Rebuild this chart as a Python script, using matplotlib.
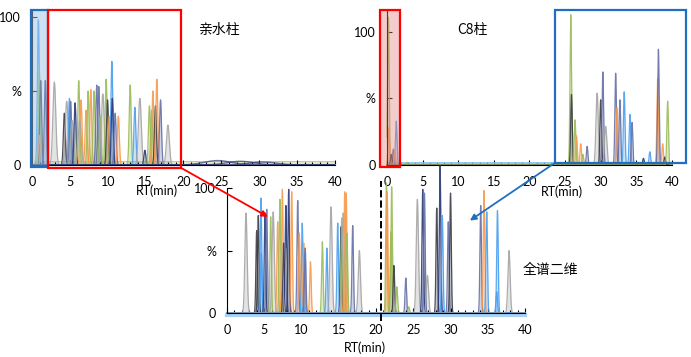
import numpy as np
import matplotlib.pyplot as plt
from matplotlib.patches import Rectangle, ConnectionPatch
from matplotlib.ticker import MultipleLocator

plt.rcParams['font.family'] = ['Lato', 'Noto Sans CJK SC', 'DejaVu Sans']

palette = {'gray': '#a5a5a5', 'dark': '#3c3c46', 'orange': '#f79a4c', 'green': '#9bbb59',
           'blue': '#4a9ff0', 'navy': '#2b3a78', 'slate': '#6670a8'}

# 亲水柱 panel: retention time (min), height (%), colour
hilic_rt = [0.84, 0.97, 1.15, 1.0, 1.76, 2.95, 4.27, 4.58, 4.94, 5.1, 5.3, 5.69, 6.17, 6.48, 6.3,
            7.14, 7.41, 7.76, 8.2, 8.55, 8.82, 9.0, 9.35, 9.79, 9.97, 10.2, 10.54, 10.6, 10.98,
            11.4, 12.96, 13.58, 14.24, 14.9, 15.5, 15.8, 15.96, 16.3, 16.48, 16.97, 17.94]
hilic_h = [98, 63, 57, 20, 57, 56, 35, 43, 45, 43, 30, 42, 57, 44, 30,
           37, 50, 51, 50, 54, 53, 33, 48, 58, 44, 33, 70, 45, 35,
           33, 54, 39, 45, 10, 40, 37, 50, 40, 58, 44, 27]
hilic_c = ['blue', 'green', 'dark', 'orange', 'navy', 'gray', 'dark', 'gray', 'blue', 'slate', 'gray',
           'navy', 'green', 'orange', 'gray', 'orange', 'green', 'orange', 'green', 'slate', 'slate',
           'green', 'gray', 'green', 'dark', 'orange', 'blue', 'navy', 'slate', 'orange', 'green',
           'blue', 'gray', 'navy', 'green', 'green', 'orange', 'dark', 'orange', 'slate', 'gray']
hump_rt = [24.5, 27.5, 30.5]
hump_h = [3.0, 2.5, 2.0]

# C8柱 panel
c8_rt = [0.2, 0.25, 0.9, 0.6, 1.3, 1.1, 2.8, 25.8, 25.9, 26.4, 26.6, 27.2, 27.5, 28.1, 29.5, 30.0,
         30.3, 30.7, 32.1, 32.3, 32.7, 33.3, 34.1, 34.4, 36.0, 36.9, 38.0, 38.1, 38.7, 39.0, 39.4]
c8_h = [111, 28, 12, 8, 33, 10, 2, 113, 53, 34, 22, 16, 8, 14, 54, 49,
        70, 29, 69, 43, 49, 55, 38, 32, 5, 10, 65, 87, 16, 6, 48]
c8_c = ['green', 'orange', 'slate', 'dark', 'blue', 'orange', 'green', 'green', 'dark', 'green',
        'orange', 'orange', 'green', 'slate', 'gray', 'dark', 'slate', 'gray', 'slate', 'orange',
        'slate', 'blue', 'blue', 'slate', 'navy', 'blue', 'orange', 'slate', 'orange', 'dark', 'green']

# 全谱二维 panel
full_rt = [2.55, 3.98, 4.2, 4.56, 4.6, 5.1, 5.33, 5.86, 6.2, 6.8, 7.1, 7.43, 7.6, 7.9, 8.1, 8.28,
           8.68, 9.49, 9.7, 10.1, 10.3, 10.4, 10.5, 11.2, 12.8, 13.4, 13.96, 14.86, 15.3, 15.4,
           15.6, 15.8, 16.0, 16.1, 16.87, 17.76, 21.4, 21.5, 22.0, 22.1, 22.4, 22.8, 24.0, 24.4,
           25.55, 26.27, 26.5, 26.9, 28.15, 28.6, 28.9, 29.7, 30.0, 34.05, 34.5, 34.86, 36.2,
           36.3, 37.85]
full_h = [80, 66, 78, 92, 48, 80, 83, 77, 81, 73, 91, 99, 56, 86, 52, 99,
          97, 90, 64, 72, 56, 48, 52, 41, 57, 52, 85, 72, 69, 76,
          80, 97, 96, 64, 70, 50, 104, 97, 65, 101, 38, 21, 28, 5,
          91, 99, 96, 30, 84, 118, 78, 73, 96, 86, 98, 81, 17,
          82, 50]
full_c = ['gray', 'dark', 'dark', 'blue', 'blue', 'navy', 'slate', 'green', 'gray', 'orange', 'green',
          'orange', 'dark', 'navy', 'gray', 'navy', 'orange', 'slate', 'orange', 'blue', 'orange',
          'blue', 'slate', 'orange', 'green', 'blue', 'gray', 'blue', 'navy', 'green', 'gray',
          'orange', 'orange', 'green', 'slate', 'gray', 'green', 'orange', 'green', 'green', 'dark',
          'green', 'slate', 'green', 'gray', 'navy', 'slate', 'gray', 'dark', 'navy', 'blue',
          'slate', 'dark', 'slate', 'orange', 'blue', 'blue', 'blue', 'gray']

ticks = [0, 5, 10, 15, 20, 25, 30, 35, 40]
tick_labels = ['0', '5', '10', '15', '20', '25', '30', '35', '40']

t = np.linspace(0, 40, 4001)


def draw_peaks(ax, rts, hs, cs, sig):
    for rt, h, c in zip(rts, hs, cs):
        s = sig * 1.5 if c == 'gray' else sig
        y = h * np.exp(-0.5 * ((t - rt) / s) ** 2)
        ax.fill_between(t, y, color=palette[c], alpha=0.3, lw=0, clip_on=False)
        ax.plot(t, y, color=palette[c], lw=0.9, alpha=0.9, clip_on=False)


def style_axis(ax, top):
    for sp in ['top', 'right']:
        ax.spines[sp].set_visible(False)
    ax.set_xlim(0, 40)
    ax.set_ylim(0, top)
    ax.set_xticks(ticks)
    ax.set_xticklabels(tick_labels)
    ax.xaxis.set_minor_locator(MultipleLocator(1))
    ax.set_yticks([0, 50, 100])
    ax.set_yticklabels(['0', '%', '100'])
    ax.tick_params(which='both', direction='in', labelsize=9, width=0.8, pad=8)
    ax.tick_params(which='major', length=3.5)
    ax.tick_params(which='minor', length=2.5)
    ax.patch.set_alpha(0)


fig = plt.figure(figsize=(6.91, 3.57), dpi=100)

ax_tl = fig.add_axes([0.0463, 0.5378, 0.4385, 0.4353])
ax_tr = fig.add_axes([0.560, 0.5378, 0.4124, 0.4322])
ax_b = fig.add_axes([0.3285, 0.1232, 0.4313, 0.350])

# top-left: 亲水柱
ax_tl.fill_between([0.3, 40], [0, 0], [2.6, 2.6], color='#e4e9c4', ec='#b9c77c', lw=0.6)
draw_peaks(ax_tl, hilic_rt, hilic_h, hilic_c, 0.13)
for rt, h in zip(hump_rt, hump_h):
    y = h * np.exp(-0.5 * ((t - rt) / 1.8) ** 2)
    ax_tl.plot(t, y, color=palette['navy'], lw=1.0, alpha=0.7)
style_axis(ax_tl, 105)
ax_tl.add_patch(Rectangle((-0.13, -1.4), 2.25, 106.1, facecolor=(0.62, 0.77, 0.90, 0.5),
                          edgecolor='#1f6fc0', lw=1.6, clip_on=False, zorder=5))
ax_tl.add_patch(Rectangle((2.12, -2), 17.6, 106.7, fill=False, edgecolor='red',
                          lw=1.6, clip_on=False, zorder=5))
ax_tl.text(21.9, 91, '亲水柱', fontsize=10, va='center', family=['Noto Sans CJK SC'])
ax_tl.text(0.413, -0.163, 'RT(min)', transform=ax_tl.transAxes, ha='center', va='center', fontsize=9)

# top-right: C8柱
ax_tr.plot([0, 42], [1.6, 1.6], color='#7fbdf0', lw=1.2, clip_on=False)
draw_peaks(ax_tr, c8_rt, c8_h, c8_c, 0.11)
style_axis(ax_tr, 116)
ax_tr.add_patch(Rectangle((-0.98, -1.5), 2.81, 118, facecolor=(0.90, 0.50, 0.50, 0.4),
                          edgecolor='red', lw=1.6, clip_on=False, zorder=5))
ax_tr.add_patch(Rectangle((23.6, 1.7), 18.4, 114.8, fill=False, edgecolor='#1f6fc0',
                          lw=1.6, clip_on=False, zorder=5))
ax_tr.text(9.8, 101.5, 'C8柱', fontsize=10, va='center', family=['Noto Sans CJK SC'])
ax_tr.text(0.614, -0.17, 'RT(min)', transform=ax_tr.transAxes, ha='center', va='center', fontsize=9)

# bottom: 全谱二维
ax_b.plot([0, 40], [-1.2, -1.2], color='#a9d2f5', lw=3, clip_on=False, zorder=0)
draw_peaks(ax_b, full_rt, full_h, full_c, 0.1)
style_axis(ax_b, 100)
ax_b.plot([20.7, 20.7], [-6, 106], color='black', ls='--', lw=1.4, clip_on=False)
ax_b.text(39.7, 34.4, '全谱二维', fontsize=10, va='center', family=['Noto Sans CJK SC'])
ax_b.text(0.463, -0.28, 'RT(min)', transform=ax_b.transAxes, ha='center', va='center', fontsize=9)

# arrows linking the boxes to the 2D chromatogram
fig.add_artist(ConnectionPatch(xyA=(19.7, -2), coordsA=ax_tl.transData, xyB=(5.5, 77),
                               coordsB=ax_b.transData, arrowstyle='-|>', color='red',
                               lw=1.3, mutation_scale=9, zorder=10))
fig.add_artist(ConnectionPatch(xyA=(23.6, 1.7), coordsA=ax_tr.transData, xyB=(32.6, 74),
                               coordsB=ax_b.transData, arrowstyle='-|>', color='#1f6fc0',
                               lw=1.3, mutation_scale=9, zorder=10))

fig.savefig('out.png', dpi=100)
